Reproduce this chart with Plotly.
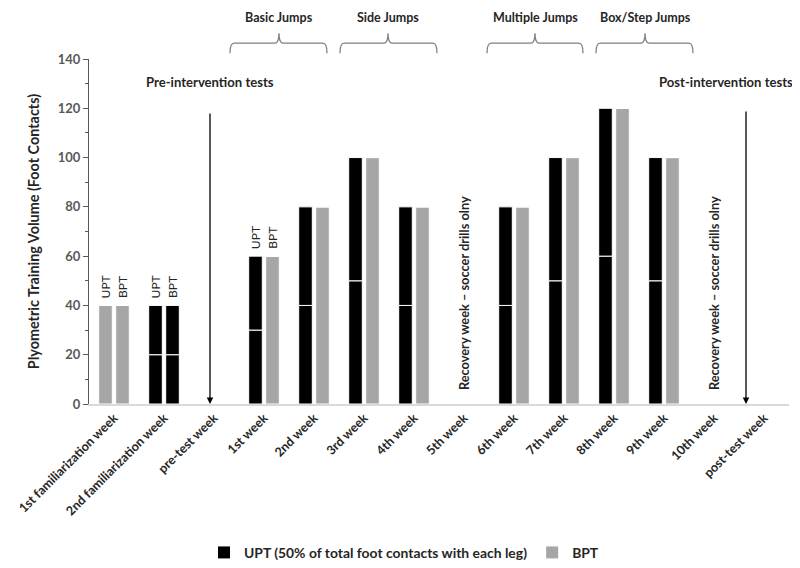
import plotly.graph_objects as go

categories = ["1st familiarization week", "2nd familiarization week", "pre-test week",
              "1st week", "2nd week", "3rd week", "4th week", "5th week", "6th week",
              "7th week", "8th week", "9th week", "10th week", "post-test week"]
upt_total = [40, 40, None, 60, 80, 100, 80, None, 80, 100, 120, 100, None, None]
bpt_total = [40, 40, None, 60, 80, 100, 80, None, 80, 100, 120, 100, None, None]
# colour used for each bar: "k" = black (split 50/50 per leg), "g" = grey (no split)
upt_style = ["g", "k", "", "k", "k", "k", "k", "", "k", "k", "k", "k", "", ""]
bpt_style = ["g", "k", "", "g", "g", "g", "g", "", "g", "g", "g", "g", "", ""]
phases = [("Basic Jumps", 2.32, 4.26, 3.3), ("Side Jumps", 4.52, 6.46, 5.48),
          ("Multiple Jumps", 7.46, 9.38, 8.42), ("Box/Step Jumps", 9.64, 11.58, 10.62)]
recovery_weeks = ["5th week", "10th week"]
legend_upt = "UPT (50% of total foot contacts with each leg)"
legend_bpt = "BPT"

BLACK = "#000000"
GREY = "#a6a6a6"
FONT = "Lato"
N = len(categories)


def split(totals, styles):
    lower, upper, cl, cu = [], [], [], []
    for t, s in zip(totals, styles):
        if t is None:
            lower.append(None); upper.append(None)
            cl.append(GREY); cu.append(GREY)
        elif s == "k":
            lower.append(t / 2); upper.append(t / 2)
            cl.append(BLACK); cu.append(BLACK)
        else:
            lower.append(t); upper.append(0)
            cl.append(GREY); cu.append(GREY)
    return lower, upper, cl, cu


fig = go.Figure()
for name, totals, styles, grp, lcol in [
        (legend_upt, upt_total, upt_style, "u", BLACK),
        (legend_bpt, bpt_total, bpt_style, "b", GREY)]:
    lo, up, cl, cu = split(totals, styles)
    fig.add_trace(go.Bar(x=categories, y=lo, offsetgroup=grp, marker_color=cl,
                         marker_line=dict(color="white", width=1), showlegend=False,
                         hoverinfo="skip"))
    fig.add_trace(go.Bar(x=categories, y=up, base=lo, offsetgroup=grp, marker_color=cu,
                         marker_line=dict(color="white", width=1), showlegend=False,
                         hoverinfo="skip"))
    fig.add_trace(go.Bar(x=[None], y=[None], offsetgroup=grp, name=name,
                         marker_color=lcol, marker_line_width=0, showlegend=True))

annotations = []
# UPT / BPT small labels above first bars
for i in [0, 1, 3]:
    for lab, off, tot in [("UPT", -0.17, upt_total[i]), ("BPT", 0.17, bpt_total[i])]:
        annotations.append(dict(x=i + off, y=tot, xref="x", yref="y", text=lab,
                                showarrow=False, textangle=-90, yanchor="bottom",
                                yshift=5, font=dict(family=FONT, size=12, color="#262626")))

# recovery week texts
for wk in recovery_weeks:
    annotations.append(dict(x=categories.index(wk), y=45, xref="x", yref="y",
                            text="Recovery week \u2013 soccer drills olny", showarrow=False,
                            textangle=-90, font=dict(family=FONT, size=12.8, color="#262626",
                                                     weight="bold")))

# test arrows
for xi, top, label, lx in [(1.92, 118.5, "Pre-intervention tests", 1.92),
                           (12.64, 119.3, "Post-intervention tests", 12.24)]:
    annotations.append(dict(x=xi, y=0, ax=xi, ay=top, xref="x", yref="y", axref="x",
                            ayref="y", text="", showarrow=True, arrowhead=2, arrowsize=1,
                            arrowwidth=1.3, arrowcolor="#000000", standoff=0))
    annotations.append(dict(x=lx, y=130.7, xref="x", yref="y", text=label, showarrow=False,
                            xanchor="center",
                            font=dict(family=FONT, size=13.1, color="#262626",
                                      weight="bold")))


def px(v):
    return (v + 0.5) / N


shapes = []
for label, a, b, c in phases:
    xa, xb, xc = px(a), px(b), px(c)
    yb, ym, yt = 1.017, 1.046, 1.075
    r = 0.006
    path = (f"M {xa},{yb} Q {xa},{ym} {xa + r},{ym} L {xc - r},{ym} Q {xc},{ym} {xc},{yt} "
            f"Q {xc},{ym} {xc + r},{ym} L {xb - r},{ym} Q {xb},{ym} {xb},{yb}")
    shapes.append(dict(type="path", xref="paper", yref="paper", path=path,
                       line=dict(color="#7f7f7f", width=1.3)))
    annotations.append(dict(x=xc, y=1.12, xref="paper", yref="paper", text=label,
                            showarrow=False, xanchor="center", yanchor="middle",
                            font=dict(family=FONT, size=12.5,
                                      color="#262626", weight="bold")))

# the page adds an 8px body margin, so the figure is drawn 8px smaller and shifted
fig.update_layout(
    width=792, height=560,
    margin=dict(l=81, r=11, t=51, b=164),
    plot_bgcolor="white", paper_bgcolor="white",
    barmode="group", bargap=0.32, bargroupgap=0.2,
    font=dict(family=FONT, color="#262626"),
    annotations=annotations, shapes=shapes,
    legend=dict(orientation="h", xref="container", yref="container", x=0.5, y=0.027,
                xanchor="center", yanchor="middle",
                font=dict(family=FONT, size=13.9, color="#262626", weight="bold"),
                itemwidth=30, tracegroupgap=0),
    xaxis=dict(range=[-0.5, N - 0.5], tickangle=-45, showline=True, linecolor="#d9d9d9",
               linewidth=1.5, ticks="", showgrid=False, automargin=False,
               tickfont=dict(family=FONT, size=12.6, color="#262626", weight="bold")),
    yaxis=dict(range=[0, 140], dtick=20, showline=True, linecolor="#595959", linewidth=1.3,
               ticks="outside", ticklen=5, tickcolor="#595959", showgrid=False,
               zeroline=False, automargin=False,
               minor=dict(dtick=10, ticks="outside", ticklen=3, tickcolor="#595959"),
               tickfont=dict(family=FONT, size=13, color="#595959", weight="bold"),
               title=dict(text="Plyometric Training Volume (Foot Contacts)", standoff=14,
                          font=dict(family=FONT, size=14.4, color="#262626", weight="bold"))),
)

fig.write_html("out.html")
